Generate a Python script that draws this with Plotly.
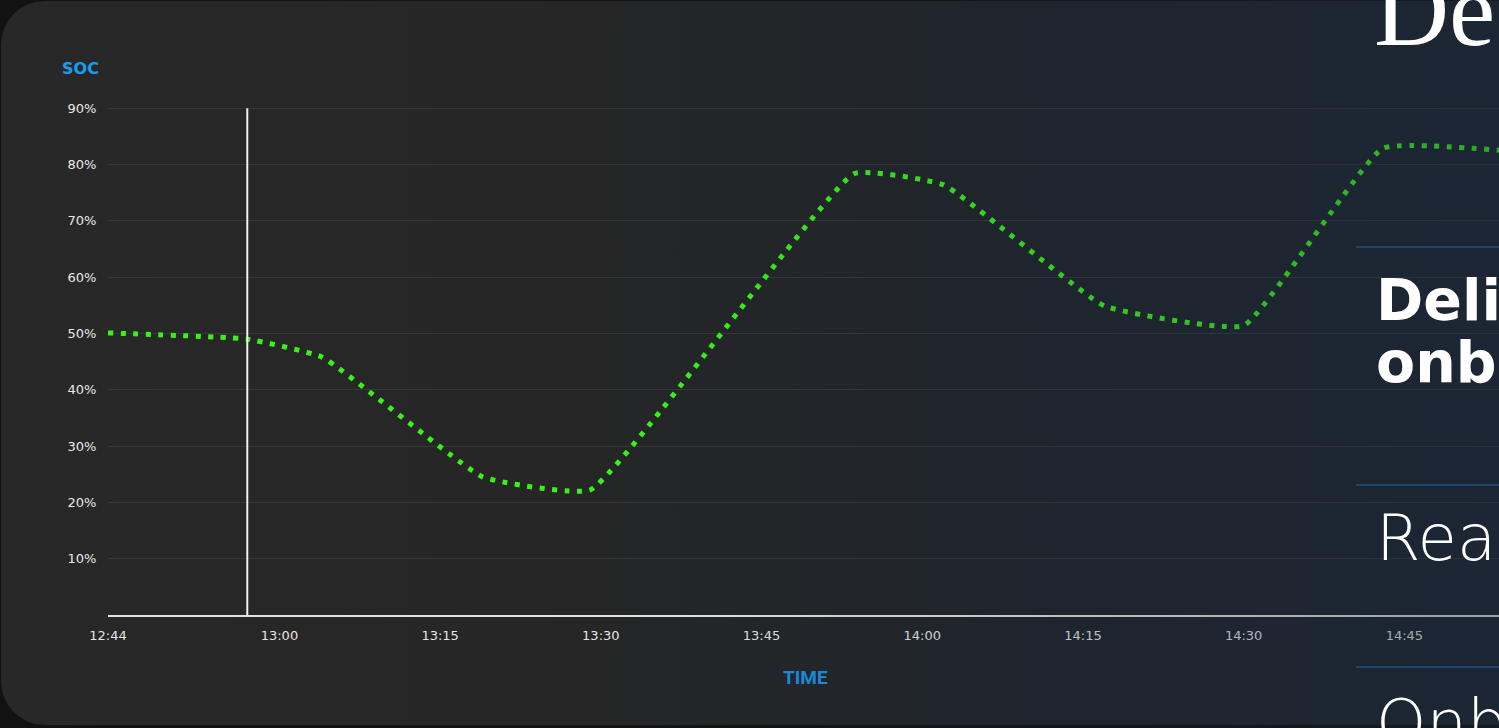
import base64
import plotly.graph_objects as go

# ---- data ----
day = "2024-01-01 "
times = ["12:44", "12:57", "13:04", "13:19", "13:29", "13:53:40", "14:02", "14:17", "14:30", "14:43", "14:56"]
soc = [50.1, 49.0, 45.8, 24.5, 22.2, 78.4, 76.4, 54.9, 51.4, 82.9, 82.2]
x_tick_vals = ["12:44", "13:00", "13:15", "13:30", "13:45", "14:00", "14:15", "14:30", "14:45"]
x_tick_text = ["12:44", "13:00", "13:15", "13:30", "13:45", "14:00", "14:15", "14:30", "14:45"]
y_tick_vals = [10, 20, 30, 40, 50, 60, 70, 80, 90, 100]
y_tick_text = ["10%", "20%", "30%", "40%", "50%", "60%", "70%", "80%", "90%", ""]
marker_time = "12:57"
marker_top = 90
x_range = ["12:44", "14:53:50"]

W, H = 1499, 728
L, R, T, B = 108, 0, 52, 113
PW, PH = W - L - R, H - T - B


def px(xp):
    return (xp - L) / PW


def py(yp):
    return (H - B - yp) / PH


def svg_uri(svg):
    return "data:image/svg+xml;base64," + base64.b64encode(svg.encode()).decode()


bg_svg = f"""<svg xmlns='http://www.w3.org/2000/svg' width='{W}' height='{H}' viewBox='0 0 {W} {H}' preserveAspectRatio='none'>
<defs><linearGradient id='g' x1='0' y1='0' x2='1' y2='0'>
<stop offset='0' stop-color='#282828'/><stop offset='0.35' stop-color='#262626'/>
<stop offset='0.65' stop-color='#20242a'/><stop offset='1' stop-color='#1c2532'/></linearGradient></defs>
<rect width='{W}' height='{H}' fill='#121212'/>
<rect x='1' y='1' width='{W + 80}' height='{H - 4}' rx='44' fill='url(#g)'/>
</svg>"""

ov_svg = f"""<svg xmlns='http://www.w3.org/2000/svg' width='{W}' height='{H}' viewBox='0 0 {W} {H}' preserveAspectRatio='none'>
<defs><linearGradient id='o' x1='0' y1='0' x2='1' y2='0'>
<stop offset='0' stop-color='#1a283a' stop-opacity='0'/>
<stop offset='0.42' stop-color='#1a283a' stop-opacity='0'/>
<stop offset='1' stop-color='#1a283a' stop-opacity='0.36'/></linearGradient></defs>
<rect width='{W}' height='{H}' fill='url(#o)'/>
</svg>"""

fig = go.Figure()
fig.add_trace(go.Scatter(
    x=[day + t for t in times], y=soc, mode="lines",
    line=dict(color="#38f21a", width=5, dash="5px,7.5px", shape="spline", smoothing=0.35),
    hoverinfo="skip", showlegend=False,
))

fig.update_layout(
    width=W, height=H,
    margin=dict(l=L, r=R, t=T, b=B, pad=0),
    paper_bgcolor="rgba(0,0,0,0)", plot_bgcolor="rgba(0,0,0,0)",
    showlegend=False,
    xaxis=dict(
        type="date", range=[day + x_range[0], day + x_range[1]],
        tickvals=[day + t for t in x_tick_vals], ticktext=x_tick_text,
        showgrid=False, zeroline=False,
        showline=True, linecolor="#e2e2e2", linewidth=2,
        ticks="outside", ticklen=7, tickcolor="rgba(0,0,0,0)",
        tickfont=dict(family="DejaVu Sans", size=13, color="#e4e4e4"),
    ),
    yaxis=dict(
        range=[0, 100], tickvals=y_tick_vals, ticktext=y_tick_text,
        showgrid=True, gridcolor="#35373a", gridwidth=1,
        zeroline=False, showline=False,
        ticks="outside", ticklen=8, tickcolor="rgba(0,0,0,0)",
        tickfont=dict(family="DejaVu Sans", size=13, color="#e8e8e8"),
    ),
    images=[
        dict(source=svg_uri(bg_svg), xref="paper", yref="paper", x=px(0), y=py(0),
             sizex=W / PW, sizey=H / PH, xanchor="left", yanchor="top",
             sizing="stretch", layer="below"),
        dict(source=svg_uri(ov_svg), xref="paper", yref="paper", x=px(0), y=py(0),
             sizex=W / PW, sizey=H / PH, xanchor="left", yanchor="top",
             sizing="stretch", layer="above"),
    ],
    shapes=[
        dict(type="line", xref="x", yref="y", x0=day + marker_time, x1=day + marker_time,
             y0=0, y1=marker_top, line=dict(color="#f2f2f2", width=2), layer="above"),
    ] + [
        dict(type="line", xref="paper", yref="paper", x0=px(1356), x1=px(W + 5),
             y0=py(yy), y1=py(yy), line=dict(color="#23446a", width=2), layer="above")
        for yy in (247, 485, 667)
    ],
    annotations=[
        dict(text="<b>SOC</b>", xref="paper", yref="paper", x=px(101), y=py(68),
             xanchor="right", yanchor="middle", showarrow=False,
             font=dict(family="DejaVu Sans", size=16, color="#189cf0")),
        dict(text="<b>TIME</b>", xref="paper", yref="paper", x=px(805), y=py(677),
             xanchor="center", yanchor="middle", showarrow=False,
             font=dict(family="Roboto", size=19, color="#1888d8")),
        dict(text="De", xref="paper", yref="paper", x=px(1372), y=py(10),
             xanchor="left", yanchor="middle", showarrow=False,
             font=dict(family="Liberation Serif", size=104, color="#ffffff")),
        dict(text="<b>Deli</b>", xref="paper", yref="paper", x=px(1374), y=py(300),
             xanchor="left", yanchor="middle", showarrow=False,
             font=dict(family="DejaVu Sans", size=57, color="#ffffff")),
        dict(text="<b>onb</b>", xref="paper", yref="paper", x=px(1374), y=py(362),
             xanchor="left", yanchor="middle", showarrow=False,
             font=dict(family="DejaVu Sans", size=57, color="#ffffff")),
        dict(text="Rea", xref="paper", yref="paper", x=px(1374), y=py(538),
             xanchor="left", yanchor="middle", showarrow=False,
             font=dict(family="DejaVu Sans", size=64, color="#ffffff", weight=200)),
        dict(text="Onb", xref="paper", yref="paper", x=px(1374), y=py(723),
             xanchor="left", yanchor="middle", showarrow=False,
             font=dict(family="DejaVu Sans", size=64, color="#ffffff", weight=200)),
    ],
)

fig.write_html("out.html", config={"displayModeBar": False},
               post_script="document.body.style.margin='0';document.body.style.overflow='hidden';")
